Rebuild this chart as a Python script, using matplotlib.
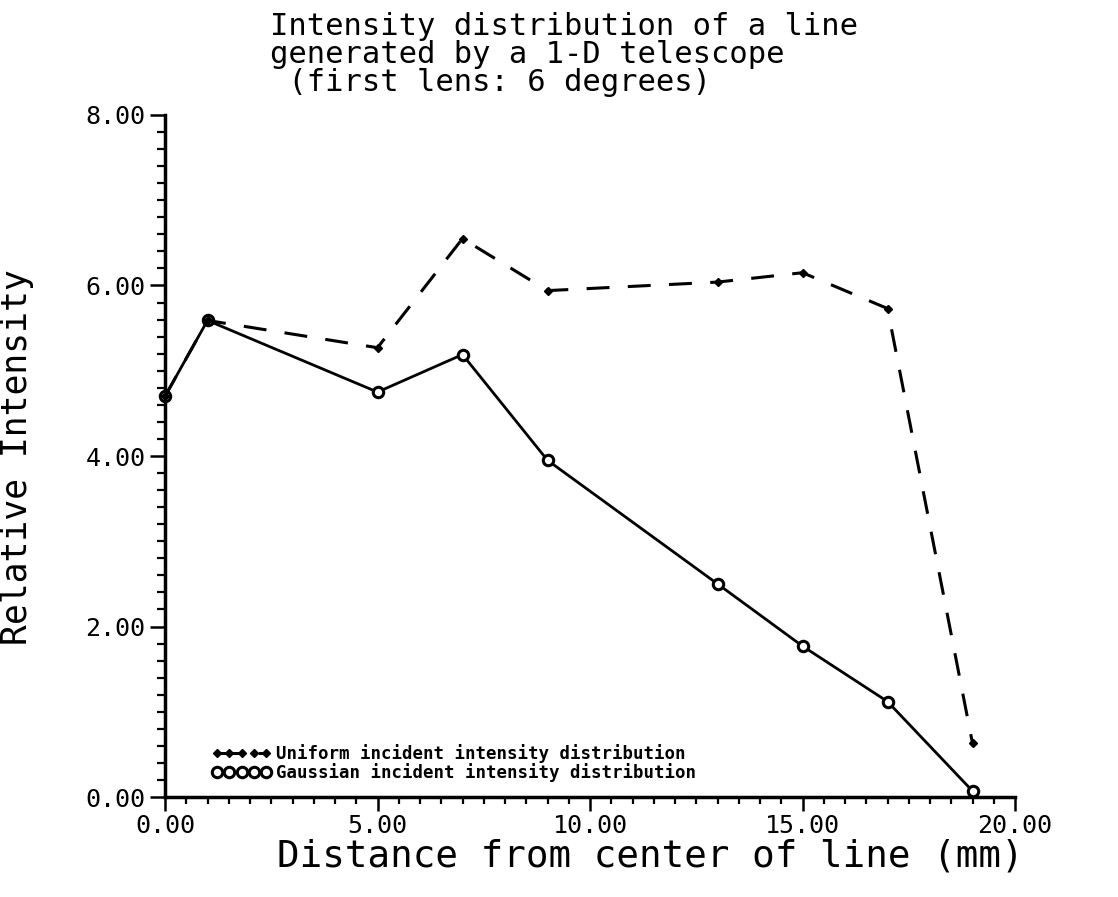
import matplotlib
matplotlib.use("Agg")
import matplotlib.pyplot as plt
from matplotlib.ticker import MultipleLocator, FormatStrFormatter

# ---- data ----
distance_mm = [0, 1, 5, 7, 9, 13, 15, 17, 19]
uniform_intensity = [4.70, 5.59, 5.27, 6.55, 5.94, 6.04, 6.15, 5.73, 0.63]
gaussian_intensity = [4.70, 5.59, 4.75, 5.19, 3.95, 2.50, 1.77, 1.12, 0.07]

title_lines = ["Intensity distribution of a line",
               "generated by a 1-D telescope",
               " (first lens: 6 degrees)"]
x_label = "Distance from center of line (mm)"
y_label = "Relative Intensity"
legend_labels = ["Uniform incident intensity distribution",
                 "Gaussian incident intensity distribution"]

FONT = ["DejaVu Sans Mono", "DejaVu Sans"]
plt.rcParams["font.family"] = FONT

W, H = 1118, 897
fig = plt.figure(figsize=(W / 100, H / 100), dpi=100)
fig.patch.set_facecolor("white")

x0, x1 = 165, 1015
y0, y1 = 797, 115
ax = fig.add_axes([x0 / W, (H - y0) / H, (x1 - x0) / W, (y0 - y1) / H])

ax.plot(distance_mm, gaussian_intensity, color="black", lw=2.0,
        marker="o", ms=7.5, mfc="white", mec="black", mew=2.2,
        clip_on=False, zorder=3, label=legend_labels[1])
ax.plot(distance_mm, uniform_intensity, color="black", lw=2.2,
        dashes=(7.5, 6.0), marker="D", ms=4.5, mfc="black", mec="black",
        clip_on=False, zorder=4, label=legend_labels[0])

ax.set_xlim(0, 20)
ax.set_ylim(0, 8)

for s in ["top", "right"]:
    ax.spines[s].set_visible(False)
for s in ["left", "bottom"]:
    ax.spines[s].set_linewidth(2.5)

ax.xaxis.set_major_locator(MultipleLocator(5))
ax.xaxis.set_minor_locator(MultipleLocator(0.5))
ax.yaxis.set_major_locator(MultipleLocator(2))
ax.yaxis.set_minor_locator(MultipleLocator(0.2))
ax.xaxis.set_major_formatter(FormatStrFormatter("%.2f"))
ax.yaxis.set_major_formatter(FormatStrFormatter("%.2f"))

ax.tick_params(axis="x", which="major", direction="out", length=10, width=1.8,
               labelsize=18, pad=2)
ax.tick_params(axis="x", which="minor", direction="out", length=5, width=1.6)
ax.tick_params(axis="y", which="major", direction="out", length=11, width=1.8,
               labelsize=18, pad=3)
ax.tick_params(axis="y", which="minor", direction="out", length=6, width=1.6)

ax.set_xlabel(x_label, fontsize=27)
ax.xaxis.set_label_coords((650 - x0) / (x1 - x0), (y0 - 838) / (y0 - y1))
ax.set_ylabel(y_label, fontsize=25)
ax.yaxis.set_label_coords((34 - x0) / (x1 - x0), (y0 - 457) / (y0 - y1))

# legend
h, l = ax.get_legend_handles_labels()
ax.legend([h[1], h[0]], [l[1], l[0]], loc="lower left",
          bbox_to_anchor=((212 - x0) / (x1 - x0), (y0 - 782) / (y0 - y1)),
          frameon=False, numpoints=5, handlelength=3.4, handletextpad=0.3,
          labelspacing=0.0, borderpad=0, borderaxespad=0,
          prop={"family": FONT, "size": 12.5, "weight": "bold"})

# title (three lines, one text object)
fig.text(270 / W, 1 - 12 / H, "\n".join(title_lines), ha="left", va="top",
         fontsize=22, linespacing=0.95)

fig.savefig("out.png", dpi=100, facecolor="white")
